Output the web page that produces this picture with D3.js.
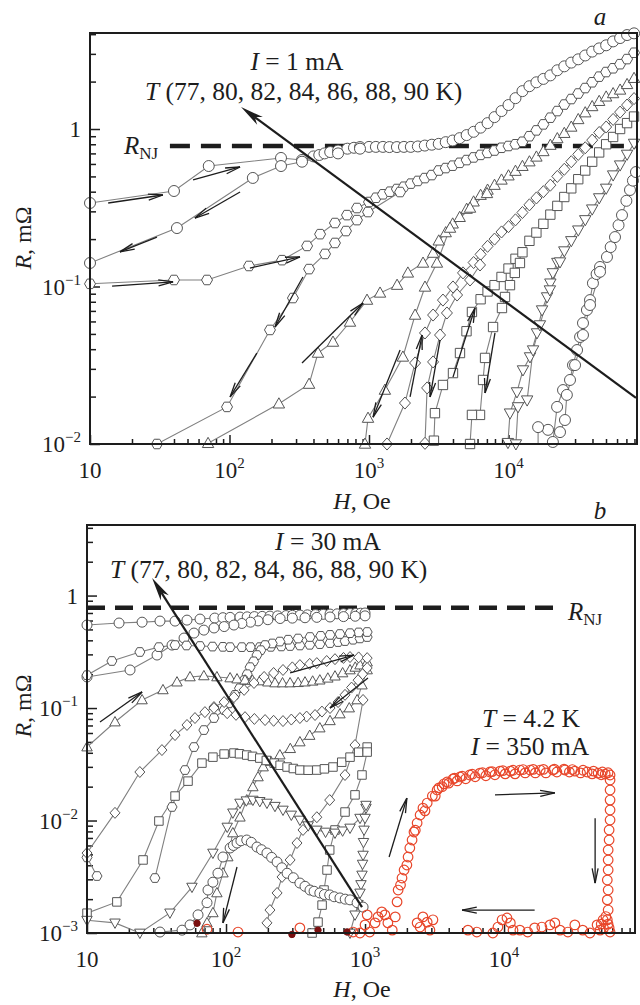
<!DOCTYPE html>
<html>
<head>
<meta charset="utf-8">
<script src="https://cdn.jsdelivr.net/npm/d3@7"></script>
<style>
body { margin: 0; background: #fff; }
svg { display: block; font-family: "Liberation Serif", "Times New Roman", serif; }
</style>
</head>
<body>
<svg id="fig" width="640" height="1005"></svg>
<script>
// ---------- data, panel a (I = 1 mA), [H (Oe), R (mOhm)] ----------
const a77up = [[10,0.339],[40,0.404],[71,0.582],[234,0.655],[331,0.636],[400,0.67],[440,0.684],[480,0.7],[527,0.714],[600,0.73],[700,0.75],[780,0.76],[862,0.768],[1000,0.77],[1120,0.77],[1259,0.77],[1400,0.768],[1585,0.768],[1780,0.77],[1995,0.77],[2240,0.775],[2512,0.785],[2820,0.795],[3162,0.805],[3548,0.825],[3981,0.845],[4467,0.875],[5012,0.915],[5623,0.96],[6310,1.02],[7079,1.09],[7943,1.19],[8913,1.3],[10000,1.42],[11220,1.57],[12589,1.74],[14125,1.87],[15849,1.98],[17783,2.08],[19953,2.19],[22387,2.36],[25119,2.5],[28184,2.64],[31623,2.77],[35481,2.93],[39811,3.1],[44668,3.25],[50119,3.4],[56234,3.6],[63096,3.78],[70795,3.95],[79433,4.05]];
const a77dn = [[862,0.75],[600,0.7],[331,0.62],[234,0.582],[147,0.489],[42,0.235],[10,0.141]];
const a80up = [[10,0.104],[40,0.110],[69,0.110],[138,0.135],[238,0.147],[360,0.181],[446,0.215],[570,0.253],[695,0.284],[820,0.315],[1000,0.344],[1122,0.366],[1259,0.385],[1413,0.4],[1585,0.416],[1778,0.43],[1995,0.45],[2239,0.468],[2512,0.488],[2818,0.51],[3162,0.545],[3548,0.565],[3981,0.585],[4467,0.61],[5012,0.635],[5623,0.66],[6310,0.685],[7079,0.705],[7943,0.73],[8913,0.76],[10000,0.78],[11220,0.8],[12589,0.83],[14125,0.9],[15849,0.98],[17783,1.07],[19953,1.18],[22387,1.3],[25119,1.43],[28184,1.55],[31623,1.68],[35481,1.82],[39811,1.98],[44668,2.15],[50119,2.3],[56234,2.43],[63096,2.58],[70795,2.78],[79433,3.05]];
const a80dn = [[1670,0.398],[984,0.297],[820,0.264],[684,0.225],[570,0.189],[484,0.161],[372,0.129],[285,0.0845],[195,0.053],[96,0.0172],[30.2,0.01]];
const a82up = [[70.2,0.0101],[226,0.018],[372,0.024],[431,0.0378],[552,0.0444],[731,0.0595],[968,0.082],[1200,0.091],[1590,0.102],[1900,0.122],[2440,0.141],[2880,0.163],[3162,0.195],[3548,0.22],[3981,0.25],[4467,0.275],[5012,0.31],[5623,0.345],[6310,0.38],[7079,0.41],[7943,0.44],[8913,0.475],[10000,0.505],[11220,0.54],[12589,0.58],[14125,0.62],[15849,0.665],[17783,0.72],[19953,0.79],[22387,0.87],[25119,0.94],[28184,1.03],[31623,1.15],[35481,1.27],[39811,1.39],[44668,1.5],[50119,1.6],[56234,1.68],[63096,1.77],[70795,1.92],[79433,2.1]];
const a82dn = [[7010,0.39],[5300,0.315],[3810,0.235],[3070,0.141],[2520,0.0993],[2140,0.0659],[1750,0.0357],[1300,0.022],[984,0.0146],[936,0.01]];
const a84up = [[1346,0.01],[1810,0.0182],[2140,0.0327],[2520,0.0507],[2880,0.0659],[3390,0.082],[4000,0.0993],[4720,0.122],[5623,0.142],[6310,0.16],[7079,0.18],[7943,0.2],[8913,0.222],[10000,0.24],[11220,0.265],[12589,0.295],[14125,0.33],[15849,0.365],[17783,0.4],[19953,0.44],[22387,0.5],[25119,0.555],[28184,0.62],[31623,0.69],[35481,0.76],[39811,0.85],[44668,0.95],[50119,1.03],[56234,1.15],[63096,1.28],[70795,1.42],[79433,1.56]];
const a84dn = [[6250,0.137],[5300,0.110],[4280,0.0883],[3620,0.0679],[3230,0.0492],[2880,0.0332],[2610,0.0227],[2520,0.0101]];
const a86up = [[2920,0.0105],[2970,0.0157],[3390,0.0237],[4000,0.0282],[4490,0.0378],[5000,0.052],[5470,0.0689],[6310,0.083],[7079,0.093],[7943,0.102],[8913,0.115],[10000,0.13],[11220,0.15],[12589,0.165],[14125,0.195],[15849,0.22],[17783,0.25],[19953,0.286],[22387,0.325],[25119,0.37],[28184,0.42],[31623,0.48],[35481,0.545],[39811,0.62],[44668,0.71],[50119,0.8],[56234,0.89],[63096,1.0],[70795,1.09],[79433,1.2]];
const a86dn = [[12080,0.141],[11100,0.122],[10250,0.102],[9440,0.0858],[8980,0.073],[7750,0.0553],[6790,0.0352],[6570,0.0255],[6250,0.0153],[5470,0.0153],[5300,0.01]];
const a88up = [[9910,0.0102],[10250,0.0157],[11500,0.0214],[12700,0.0295],[14260,0.0357],[16000,0.0507],[17400,0.0709],[18900,0.0858],[19953,0.105],[20800,0.122],[22387,0.142],[25119,0.168],[28184,0.195],[31623,0.228],[35481,0.265],[39811,0.31],[44668,0.365],[50119,0.42],[56234,0.51],[63096,0.59],[70795,0.69],[79433,0.81]];
const a88dn = [[23400,0.143],[19800,0.095],[16800,0.057],[15000,0.0395],[13600,0.019],[11700,0.0172],[11300,0.01]];
const a90up = [[20800,0.0103],[22300,0.0172],[24600,0.022],[27600,0.0255],[29000,0.0317],[31000,0.0395],[32600,0.0478],[34200,0.0586],[36500,0.0709],[38400,0.082],[40300,0.105],[42800,0.12],[45300,0.133],[50800,0.154],[54000,0.178],[58000,0.206],[61500,0.245],[65100,0.284],[70000,0.35],[74300,0.41],[78000,0.47],[82000,0.533]];
const a90dn = [[45300,0.124],[38400,0.0763],[34200,0.0492],[30000,0.0317],[26200,0.0205],[25400,0.0142],[23400,0.0119],[19200,0.0123],[16300,0.0128],[16300,0.009]];

// small sweep arrows, panel a: [from, to]
const arrowsA = [
  [[13.5,0.339],[33.3,0.381]], [[54.8,0.475],[119,0.574]], [[119,0.398],[56.5,0.272]],
  [[30.2,0.206],[16.4,0.166]], [[14.4,0.1007],[39.4,0.107]], [[140,0.131],[320,0.154]],
  [[336,0.115],[212,0.0553]], [[157,0.0378],[101,0.0199]], [[331,0.0327],[906,0.0786]],
  [[1670,0.0395],[1070,0.0148]], [[1970,0.0199],[2400,0.0492]], [[3230,0.0457],[2740,0.0199]],
  [[4000,0.0266],[5750,0.073]], [[8000,0.0507],[6790,0.0211]]
];
const bigArrowA = [[82000,0.0196],[121,1.38]];

// ---------- data, panel b (I = 30 mA; red: T = 4.2 K, I = 350 mA) ----------
const b77up = [[10,0.547],[17,0.57],[24.9,0.58],[33.5,0.593],[43,0.593],[52.4,0.605],[65,0.618],[83,0.631],[95,0.636],[107,0.64],[126,0.644],[142,0.647],[160,0.65],[182,0.653],[207,0.657],[235,0.66],[270,0.664],[300,0.667],[341,0.671],[385,0.674],[440,0.678],[500,0.681],[560,0.685],[630,0.688],[700,0.69],[780,0.692],[860,0.695],[930,0.697],[1000,0.7]];
const b77dn = [[1000,0.66],[850,0.655],[700,0.65],[560,0.645],[450,0.64],[370,0.635],[300,0.63],[245,0.625],[200,0.61],[170,0.595],[150,0.58],[130,0.565],[114,0.547],[97,0.53],[82,0.515],[69.3,0.493],[58.8,0.464],[49.9,0.419],[40.9,0.363],[31.9,0.296],[20.4,0.218],[10,0.189]];
const b80up = [[10,0.196],[15.1,0.262],[24,0.315],[32.9,0.348],[43,0.363],[52,0.36],[65,0.356],[80,0.352],[95,0.35],[107,0.348],[130,0.348],[150,0.348],[175,0.348],[210,0.35],[250,0.353],[289,0.356],[340,0.36],[400,0.365],[473,0.37],[560,0.378],[640,0.386],[718,0.394],[820,0.405],[920,0.416],[1036,0.428]];
const b80dn = [[1036,0.474],[900,0.47],[780,0.463],[660,0.455],[560,0.447],[480,0.438],[402,0.428],[330,0.415],[280,0.405],[244,0.39],[215,0.375],[191,0.363],[178,0.327],[167,0.296],[158,0.26],[149,0.231],[142,0.2],[135,0.177],[125,0.15],[116,0.131],[105,0.11],[96.9,0.096],[81.9,0.0815],[69.3,0.0637],[58.8,0.045],[50.7,0.0281],[40.9,0.0132],[30.8,0.00308]];
const b80tail = [[10,0.0047],[11.8,0.00321]];
const b82up = [[10,0.045],[15.9,0.0751],[24.9,0.118],[35.2,0.145],[44.4,0.17],[55.1,0.189],[69.3,0.193],[86,0.189],[107,0.185],[120,0.181],[137,0.177],[155,0.176],[175,0.174],[200,0.17],[225,0.167],[255,0.167],[289,0.167],[330,0.168],[370,0.17],[420,0.173],[473,0.177],[540,0.184],[608,0.192],[690,0.205],[780,0.218],[850,0.23],[920,0.241],[1036,0.256]];
const b82dn = [[1036,0.218],[951,0.16],[877,0.118],[770,0.1],[660,0.0885],[560,0.077],[473,0.0664],[400,0.057],[340,0.0499],[290,0.0435],[244,0.0382],[210,0.0335],[185,0.0299],[170,0.0244],[156,0.0199],[141,0.0152],[126,0.0107],[112,0.00775],[103,0.00474],[95.1,0.00341],[86,0.00227],[80.5,0.00151],[73,0.00123],[67,0.001]];
const b84up = [[10,0.00514],[15.9,0.0117],[24,0.027],[34.6,0.0423],[43,0.0575],[52.4,0.0707],[59.8,0.0815],[70.5,0.092],[81.9,0.102],[96.9,0.113],[114,0.125],[135,0.145],[159,0.167],[188,0.189],[220,0.205],[257,0.218],[300,0.23],[340,0.241],[400,0.247],[450,0.251],[530,0.262],[608,0.272],[700,0.279],[780,0.284],[900,0.282],[1036,0.278]];
const b84dn = [[1036,0.227],[960,0.2],[891,0.177],[800,0.152],[718,0.131],[640,0.113],[560,0.1],[490,0.093],[437,0.0867],[380,0.084],[340,0.0815],[295,0.079],[257,0.0766],[220,0.077],[191,0.0782],[160,0.08],[137,0.083],[118,0.087],[102,0.09],[81.9,0.1]];
const b84low = [[968,0.118],[847,0.0469],[718,0.0254],[557,0.0152],[450,0.0107],[358,0.00824],[324,0.00631],[289,0.00446],[253,0.00315],[233,0.00227],[207,0.0016],[197,0.00123]];
const b86up = [[10,0.0015],[16.4,0.00189],[25.3,0.00446],[32.9,0.0099],[43,0.0165],[53.3,0.0224],[67.1,0.0324],[80.5,0.0366],[96.9,0.039],[114,0.0398],[125,0.0392],[141,0.0382],[155,0.0372],[175,0.0359],[195,0.0342],[222,0.0324],[245,0.031],[275,0.0299],[305,0.029],[340,0.0281],[390,0.028],[450,0.0281],[510,0.0288],[588,0.0299],[680,0.033],[780,0.0366],[900,0.0405],[1036,0.045]];
const b86dn = [[1036,0.0406],[951,0.0254],[847,0.0169],[718,0.0119],[608,0.00824],[557,0.00547],[533,0.00363],[507,0.00241],[491,0.00177],[459,0.00125],[416,0.001]];
const b88up = [[10,0.0013],[15.9,0.00123],[24,0.001],[39.5,0.00151],[56.9,0.00256],[80.5,0.00514],[102,0.00875],[112,0.0117],[126,0.0143],[140,0.015],[156,0.0152],[175,0.0148],[197,0.0143],[225,0.0134],[257,0.0124],[295,0.0112],[340,0.0101],[390,0.009],[450,0.00824],[520,0.0079],[608,0.00775],[690,0.0081],[780,0.00858],[920,0.0105],[1016,0.0129]];
const b88dn = [[1016,0.0137],[1000,0.0105],[984,0.00824],[975,0.0064],[968,0.00493],[960,0.0041],[951,0.00328],[935,0.0027],[920,0.00227],[890,0.0018],[847,0.00145],[780,0.001]];
const b90 = [[33.5,0.00102],[48.3,0.00106],[55.1,0.00118],[62.9,0.00145],[73,0.00186],[74.2,0.00241],[80.5,0.00283],[87.5,0.0034],[95.1,0.00474],[107,0.0057],[113,0.006],[120,0.00631],[128,0.0066],[141,0.00671],[152,0.0064],[167,0.00581],[180,0.0055],[197,0.00514],[213,0.0047],[233,0.00428],[252,0.0038],[275,0.0034],[305,0.0031],[340,0.00278],[370,0.0026],[402,0.00241],[430,0.00235],[473,0.00227],[510,0.0022],[557,0.00218],[600,0.0021],[660,0.00205],[720,0.002],[780,0.00197],[877,0.00186],[968,0.0017]];

const red42loop = [[1845,0.00308],[1910,0.00363],[2000,0.00402],[2040,0.00474],[2100,0.0057],[2180,0.00671],[2250,0.0079],[2370,0.0095],[2490,0.0112],[2610,0.0129],[2800,0.0143],[3050,0.0165],[3300,0.0187],[3590,0.02],[3890,0.022],[4290,0.0234],[4820,0.0244],[5660,0.0254],[6700,0.0264],[7910,0.027],[9350,0.0275],[11100,0.0275],[13000,0.0281],[15400,0.0281],[18200,0.0281],[22500,0.0281],[27400,0.0281],[32300,0.0275],[39600,0.027],[47500,0.0264],[53400,0.0259],[57900,0.0254],[57900,0.0229],[57900,0.0187],[57900,0.0152],[57900,0.0124],[57900,0.0101],[57000,0.00824],[57000,0.00671],[56100,0.00547],[56100,0.00446],[56100,0.00363],[55300,0.00296],[56100,0.00241],[55300,0.00197],[56100,0.0016],[55300,0.00131],[57000,0.00111]];
const red42band = [[2300,0.0082],[2700,0.0122],[3200,0.0165],[4000,0.0215],[4600,0.0225],[5300,0.0235],[6200,0.0245],[7400,0.025],[8600,0.0255],[10200,0.026],[12000,0.026],[14200,0.0265],[16800,0.0265],[20000,0.0265],[24000,0.027],[29500,0.027],[35500,0.0265],[43000,0.026],[50000,0.0255]];
const red42band2 = [[3400,0.0195],[3700,0.0212],[4400,0.0238],[5000,0.0248],[5900,0.0258],[7000,0.0266],[8200,0.0272],[9800,0.0278],[11600,0.028],[13700,0.0284],[16200,0.0285],[19200,0.0285],[23000,0.0286],[27000,0.0286],[31000,0.0284],[37000,0.028],[44000,0.0275],[51000,0.027],[56000,0.0266]];
const red42noise = [[73,0.00108],[122,0.00102],[340,0.00111],[820,0.00102],[920,0.001],[1000,0.00118],[1036,0.00145],[1080,0.00102],[1180,0.00123],[1240,0.00139],[1320,0.00154],[1390,0.00145],[1460,0.00123],[1570,0.00106],[1650,0.00139],[1700,0.00189],[1730,0.00241],[1800,0.00267],[2370,0.00123],[2490,0.00113],[2610,0.00139],[2800,0.00125],[2930,0.00106],[3080,0.00131],[3180,0.00096],[5500,0.00106],[6370,0.00102],[7260,0.00096],[8310,0.001],[9040,0.00113],[9680,0.00131],[10500,0.00136],[11100,0.00123],[11600,0.00106],[13000,0.00106],[14800,0.00102],[16600,0.00111],[18700,0.00113],[21400,0.00118],[23200,0.00123],[25300,0.00106],[28800,0.00102],[32300,0.00118],[36800,0.00106],[41500,0.001],[46700,0.00118],[49100,0.00106],[50000,0.0012],[51600,0.00131],[52000,0.0011],[53400,0.00096],[54000,0.0014],[55300,0.00092],[56000,0.0012],[57900,0.00102]];
const red42dots = [[61.9,0.00122],[298,0.00097],[459,0.00106],[743,0.00102]];

const arrowsB = [
  [[12.4,0.0751],[24.9,0.139]], [[289,0.205],[834,0.296]], [[1050,0.185],[560,0.1]],
  [[120,0.00386],[95,0.00123]], [[1490,0.00474],[2000,0.0158]], [[8610,0.0169],[23200,0.0176]],
  [[45200,0.0105],[45200,0.00278]], [[16600,0.0016],[4990,0.0016]]
];
const bigArrowB = [[951,0.0017],[29.4,1.43]];

const rNJ = 0.78;
const xMajor = [10, 100, 1000, 10000];
const yMajorA = [0.01, 0.1, 1];
const yMajorB = [0.001, 0.01, 0.1, 1];

// ---------- drawing ----------
const svg = d3.select('#fig');
const ink = '#1d1d1d';

const shapes = {
  circle: r => `M${r},0A${r},${r},0,1,1,${-r},0A${r},${r},0,1,1,${r},0Z`,
  hex: r => 'M' + d3.range(6).map(i => [r * Math.cos(i * Math.PI / 3), r * Math.sin(i * Math.PI / 3)].map(v => v.toFixed(2)).join(',')).join('L') + 'Z',
  tri: r => `M0,${-r}L${0.95 * r},${0.7 * r}L${-0.95 * r},${0.7 * r}Z`,
  dtri: r => `M0,${r}L${0.95 * r},${-0.7 * r}L${-0.95 * r},${-0.7 * r}Z`,
  diam: r => `M0,${-1.1 * r}L${r},0L0,${1.1 * r}L${-r},0Z`,
  square: r => { const s = 0.85 * r; return `M${-s},${-s}H${s}V${s}H${-s}Z`; }
};

function powLabel(t, v) {
  const e = Math.round(Math.log10(v));
  if (e === 0) { t.text('1'); return; }
  if (e === 1) { t.text('10'); return; }
  t.append('tspan').text('10');
  t.append('tspan').attr('dy', -10).attr('font-size', 15).text(e < 0 ? '\u2212' + (-e) : String(e));
}

function minorTicks(dom) {
  const out = [];
  for (let d = Math.pow(10, Math.floor(Math.log10(dom[0]))); d < dom[1]; d *= 10)
    for (let k = 2; k <= 9; k++) if (k * d > dom[0] && k * d < dom[1]) out.push(k * d);
  return out;
}

function harpoon(g, p1, p2, w, len) {
  const ang = Math.atan2(p2[1] - p1[1], p2[0] - p1[0]);
  g.append('line').attr('x1', p1[0]).attr('y1', p1[1]).attr('x2', p2[0]).attr('y2', p2[1])
    .attr('stroke', ink).attr('stroke-width', w);
  [-0.2, 0.2].forEach(da => {
    g.append('line').attr('x1', p2[0]).attr('y1', p2[1])
      .attr('x2', p2[0] - len * Math.cos(ang + da)).attr('y2', p2[1] - len * Math.sin(ang + da))
      .attr('stroke', ink).attr('stroke-width', w);
  });
}

function bigArrow(g, p1, p2) {
  const ang = Math.atan2(p2[1] - p1[1], p2[0] - p1[0]);
  const L = 24, N = 17, s = 0.2;
  const back = da => [p2[0] - L * Math.cos(ang + da), p2[1] - L * Math.sin(ang + da)];
  const notch = [p2[0] - N * Math.cos(ang), p2[1] - N * Math.sin(ang)];
  g.append('line').attr('x1', p1[0]).attr('y1', p1[1]).attr('x2', notch[0]).attr('y2', notch[1])
    .attr('stroke', ink).attr('stroke-width', 2.2);
  g.append('path').attr('d', 'M' + [p2, back(-s), notch, back(s)].map(p => p.join(',')).join('L') + 'Z')
    .attr('fill', ink);
}

function panel(cfg) {
  const x = d3.scaleLog().domain(cfg.xDom).range([cfg.left, cfg.right]);
  const y = d3.scaleLog().domain(cfg.yDom).range([cfg.bottom, cfg.top]);
  const g = svg.append('g');
  const clipId = 'clip-' + cfg.id;
  svg.append('clipPath').attr('id', clipId).append('rect')
    .attr('x', cfg.left).attr('y', cfg.top)
    .attr('width', cfg.right - cfg.left).attr('height', cfg.bottom - cfg.top);

  // ticks (inward)
  const ax = g.append('g').attr('transform', `translate(0,${cfg.bottom})`);
  ax.call(d3.axisBottom(x).tickValues(minorTicks(cfg.xDom)).tickSize(-5).tickFormat(''));
  ax.append('g').call(d3.axisBottom(x).tickValues(xMajor).tickSize(-9).tickFormat(''));
  const ay = g.append('g').attr('transform', `translate(${cfg.left},0)`);
  ay.call(d3.axisLeft(y).tickValues(minorTicks(cfg.yDom)).tickSize(-6).tickFormat(''));
  ay.append('g').call(d3.axisLeft(y).tickValues(cfg.yMajor).tickSize(-10).tickFormat(''));
  g.selectAll('.domain').remove();
  g.selectAll('.tick line').attr('stroke', ink).attr('stroke-width', 1.5);

  xMajor.forEach(v => {
    const t = g.append('text').attr('x', x(v)).attr('y', cfg.bottom + 34)
      .attr('text-anchor', 'middle').attr('font-size', 23).attr('fill', ink);
    powLabel(t, v);
  });
  cfg.yMajor.forEach(v => {
    const t = g.append('text').attr('x', cfg.left - 9).attr('y', y(v) + 8)
      .attr('text-anchor', 'end').attr('font-size', 23).attr('fill', ink);
    powLabel(t, v);
  });

  // R_NJ dashed line
  g.append('line').attr('x1', x(cfg.nj[0])).attr('x2', x(cfg.nj[1]))
    .attr('y1', y(rNJ)).attr('y2', y(rNJ))
    .attr('stroke', ink).attr('stroke-width', 4.5).attr('stroke-dasharray', cfg.dash);

  // curves: connecting lines first, then markers
  const line = d3.line().x(d => x(d[0])).y(d => y(d[1]));
  const lg = g.append('g').attr('clip-path', `url(#${clipId})`);
  cfg.curves.filter(c => c.line).forEach(c => {
    lg.append('path').attr('d', line(c.data)).attr('fill', 'none')
      .attr('stroke', '#808080').attr('stroke-width', 1.1);
  });
  const inside = d => d[1] >= cfg.yDom[0] * 0.97 && d[0] <= cfg.xDom[1];
  cfg.curves.forEach(c => {
    g.append('g').selectAll('path').data(c.data.filter(inside)).join('path')
      .attr('transform', d => `translate(${x(d[0])},${y(d[1])})`)
      .attr('d', shapes[c.shape](c.r))
      .attr('fill', c.fill || '#fff')
      .attr('stroke', c.stroke || '#555')
      .attr('stroke-width', c.sw || 1);
  });

  // arrows
  const ag = g.append('g');
  cfg.arrows.forEach(a => harpoon(ag, [x(a[0][0]), y(a[0][1])], [x(a[1][0]), y(a[1][1])], 1.3, 15));
  bigArrow(ag, [x(cfg.big[0][0]), y(cfg.big[0][1])], [x(cfg.big[1][0]), y(cfg.big[1][1])]);

  // frame
  g.append('rect').attr('x', cfg.left).attr('y', cfg.top)
    .attr('width', cfg.right - cfg.left).attr('height', cfg.bottom - cfg.top)
    .attr('fill', 'none').attr('stroke', ink).attr('stroke-width', 2);

  // axis titles
  const yl = g.append('text').attr('transform', `translate(${cfg.yTitle[0]},${cfg.yTitle[1]}) rotate(-90)`)
    .attr('text-anchor', 'middle').attr('font-size', 24).attr('fill', ink);
  yl.append('tspan').attr('font-style', 'italic').text('R');
  yl.append('tspan').text(', m\u03A9');
  const xl = g.append('text').attr('x', cfg.xTitle[0]).attr('y', cfg.xTitle[1])
    .attr('text-anchor', 'middle').attr('font-size', 24).attr('fill', ink);
  xl.append('tspan').attr('font-style', 'italic').text('H');
  xl.append('tspan').text(', Oe');

  // R_NJ label
  const nl = g.append('text').attr('x', cfg.njLabel[0]).attr('y', cfg.njLabel[1])
    .attr('font-size', 25).attr('fill', ink);
  nl.append('tspan').attr('font-style', 'italic').text('R');
  nl.append('tspan').attr('font-size', 17).attr('dy', 5).text('NJ');

  // panel letter
  g.append('text').attr('x', cfg.letter[0]).attr('y', cfg.letter[1]).attr('text-anchor', 'middle')
    .attr('font-size', 25).attr('font-style', 'italic').attr('fill', ink).text(cfg.letter[2]);

  return {g, x, y};
}

function note(g, xx, yy, anchor, parts) {
  const t = g.append('text').attr('x', xx).attr('y', yy).attr('text-anchor', anchor)
    .attr('font-size', 25.5).attr('fill', ink);
  parts.forEach(p => t.append('tspan').attr('font-style', p[1] ? 'italic' : null).text(p[0]));
}

const R = 5.5;
const red = '#e8472b';
const pa = panel({
  id: 'a', left: 90, right: 637, top: 33, bottom: 444,
  xDom: [10, 8.34e4], yDom: [0.01, 4.07], yMajor: yMajorA,
  nj: [37.4, 8.34e4], dash: '20,11',
  curves: [
    {data: a77up, shape: 'circle', r: R, line: true}, {data: a77dn, shape: 'circle', r: R, line: true},
    {data: a80up, shape: 'hex', r: R, line: true}, {data: a80dn, shape: 'hex', r: R, line: true},
    {data: a82up, shape: 'tri', r: 6, line: true}, {data: a82dn, shape: 'tri', r: 6, line: true},
    {data: a84up, shape: 'diam', r: 5.5, line: true}, {data: a84dn, shape: 'diam', r: 5.5, line: true},
    {data: a86up, shape: 'square', r: 5.5, line: true}, {data: a86dn, shape: 'square', r: 5.5, line: true},
    {data: a88up, shape: 'dtri', r: 6, line: true}, {data: a88dn, shape: 'dtri', r: 6, line: true},
    {data: a90up, shape: 'circle', r: R, line: true}, {data: a90dn, shape: 'circle', r: R, line: true}
  ],
  arrows: arrowsA, big: bigArrowA,
  yTitle: [31, 238], xTitle: [362, 509], njLabel: [124, 154], letter: [600, 25, 'a']
});
note(pa.g, 297, 70, 'middle', [['I', true], [' = 1 mA', false]]);
note(pa.g, 145, 100, 'start', [['T', true], [' (77, 80, 82, 84, 86, 88, 90 K)', false]]);

const pb = panel({
  id: 'b', left: 87, right: 635, top: 525, bottom: 933,
  xDom: [10, 8.75e4], yDom: [0.001, 4.24], yMajor: yMajorB,
  nj: [10, 2.4e4], dash: '18,10',
  curves: [
    {data: b77up, shape: 'circle', r: 5, line: true}, {data: b77dn, shape: 'circle', r: 5, line: true},
    {data: b80up, shape: 'hex', r: 5, line: true}, {data: b80dn, shape: 'hex', r: 5, line: true},
    {data: b80tail, shape: 'hex', r: 5, line: true},
    {data: b82up, shape: 'tri', r: 5.5, line: true}, {data: b82dn, shape: 'tri', r: 5.5, line: true},
    {data: b84up, shape: 'diam', r: 5, line: true}, {data: b84dn, shape: 'diam', r: 5, line: true},
    {data: b84low, shape: 'diam', r: 5, line: true},
    {data: b86up, shape: 'square', r: 5, line: true}, {data: b86dn, shape: 'square', r: 5, line: true},
    {data: b88up, shape: 'dtri', r: 5.5, line: true}, {data: b88dn, shape: 'dtri', r: 5.5, line: true},
    {data: b90, shape: 'circle', r: 5, line: true},
    {data: red42noise, shape: 'circle', r: 4.8, line: false, fill: 'none', stroke: red, sw: 1.2},
    {data: red42band, shape: 'circle', r: 4.8, line: false, fill: 'none', stroke: red, sw: 1.2},
    {data: red42band2, shape: 'circle', r: 4.8, line: false, fill: 'none', stroke: red, sw: 1.2},
    {data: red42loop, shape: 'circle', r: 4.8, line: false, fill: 'none', stroke: red, sw: 1.2},
    {data: red42dots, shape: 'circle', r: 3.2, line: false, fill: '#7a0f0f', stroke: '#7a0f0f', sw: 1}
  ],
  arrows: arrowsB, big: bigArrowB,
  yTitle: [31, 706], xTitle: [362, 997], njLabel: [568, 620], letter: [600, 519, 'b']
});
note(pb.g, 328, 550, 'middle', [['I', true], [' = 30 mA', false]]);
note(pb.g, 110, 578, 'start', [['T', true], [' (77, 80, 82, 84, 86, 88, 90 K)', false]]);
note(pb.g, 531, 727, 'middle', [['T', true], [' = 4.2 K', false]]);
note(pb.g, 530, 755, 'middle', [['I', true], [' = 350 mA', false]]);
</script>
</body>
</html>
